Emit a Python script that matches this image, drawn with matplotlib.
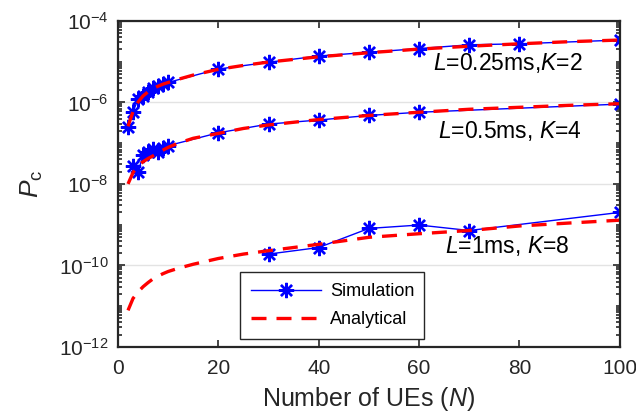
import matplotlib
matplotlib.use('Agg')
import matplotlib.pyplot as plt
import matplotlib.ticker as mticker
from matplotlib.lines import Line2D
import numpy as np

plt.rcParams['font.family'] = ['Liberation Sans', 'DejaVu Sans']
plt.rcParams['mathtext.fontset'] = 'custom'
plt.rcParams['mathtext.rm'] = 'Liberation Sans'
plt.rcParams['mathtext.it'] = 'Liberation Sans:italic'

# simulation points
n_sim1 = [2, 3, 4, 5, 6, 7, 8, 9, 10, 20, 30, 40, 50, 60, 70, 80, 100]
p_sim1 = [2.5e-7, 5.9e-7, 1.2e-6, 1.45e-6, 1.8e-6, 2.2e-6, 2.6e-6, 2.8e-6, 3.1e-6,
          6.6e-6, 9.7e-6, 1.38e-5, 1.7e-5, 2.1e-5, 2.6e-5, 2.75e-5, 3.4e-5]
n_sim2 = [3, 4, 5, 6, 7, 8, 9, 10, 20, 30, 40, 50, 60, 100]
p_sim2 = [2.7e-8, 2.0e-8, 5.0e-8, 6.0e-8, 7.4e-8, 6.0e-8, 7.5e-8, 8.7e-8,
          1.8e-7, 2.95e-7, 3.7e-7, 4.8e-7, 5.75e-7, 9.1e-7]
n_sim3 = [30, 40, 50, 60, 70, 100]
p_sim3 = [1.9e-10, 2.75e-10, 8.1e-10, 9.8e-10, 7.2e-10, 2.0e-9]

# analytical curves
n_ana = [2, 3, 4, 5, 6, 7, 8, 9, 10, 12, 15, 20, 25, 30, 40, 50, 60, 70, 80, 90, 100]
p_ana1 = [2.6e-7, 6.0e-7, 1.02e-6, 1.45e-6, 1.82e-6, 2.19e-6, 2.51e-6, 2.82e-6, 3.09e-6,
          3.7e-6, 4.7e-6, 6.5e-6, 8.1e-6, 9.8e-6, 1.32e-5, 1.66e-5, 2.04e-5, 2.4e-5,
          2.75e-5, 3.1e-5, 3.4e-5]
p_ana2 = [1.0e-8, 1.9e-8, 2.8e-8, 3.5e-8, 4.2e-8, 4.9e-8, 5.75e-8, 6.8e-8, 7.9e-8,
          1.0e-7, 1.32e-7, 1.74e-7, 2.3e-7, 2.8e-7, 3.8e-7, 4.8e-7, 5.75e-7, 6.8e-7,
          7.6e-7, 8.5e-7, 9.3e-7]
p_ana3 = [7.9e-12, 1.55e-11, 2.24e-11, 3.0e-11, 3.8e-11, 4.7e-11, 5.5e-11, 6.3e-11,
          7.1e-11, 8.5e-11, 1.07e-10, 1.48e-10, 1.9e-10, 2.3e-10, 3.3e-10, 4.9e-10,
          6.0e-10, 7.2e-10, 9.3e-10, 1.1e-9, 1.29e-9]

labels = [r'$\it{L}$=0.25ms,$\it{K}$=2', r'$\it{L}$=0.5ms, $\it{K}$=4', r'$\it{L}$=1ms, $\it{K}$=8']
label_pos = [(92.6, 6.3e-6), (92.4, 1.33e-7), (90.0, 2.0e-10)]

dark = '#262626'

fig = plt.figure(figsize=(6.36, 4.19), dpi=100)
ax = fig.add_axes([0.1855, 0.172, 0.789, 0.778])

star = dict(color='blue', lw=1.0, marker=(8, 2, 0), ms=11, mew=1.7)
dash = dict(color='red', lw=2.4, dashes=(4.5, 3))

for ns, ps, pa in [(n_sim1, p_sim1, p_ana1), (n_sim2, p_sim2, p_ana2), (n_sim3, p_sim3, p_ana3)]:
    ax.plot(ns, ps, **star)
    ax.plot(n_ana, pa, **dash)

ax.set_yscale('log')
ax.set_xlim(0, 100)
ax.set_ylim(1e-12, 1e-4)
ax.set_xticks([0, 20, 40, 60, 80, 100])
ax.yaxis.set_major_locator(mticker.FixedLocator([1e-12, 1e-10, 1e-8, 1e-6, 1e-4]))
ax.yaxis.set_minor_locator(mticker.LogLocator(base=10, subs=np.arange(1, 10), numticks=50))
ax.yaxis.set_minor_formatter(mticker.NullFormatter())
ax.grid(True, which='major', axis='y', color='#e3e3e3', lw=1.0)
ax.set_axisbelow(True)

ax.tick_params(which='both', direction='in', top=True, right=True, colors=dark,
               labelsize=15, width=1.2)
ax.tick_params(which='major', length=5)
ax.tick_params(which='minor', length=3)
ax.tick_params(axis='x', pad=9)
ax.tick_params(axis='y', pad=7)
for s in ax.spines.values():
    s.set_color(dark)
    s.set_linewidth(1.6)

ax.set_xlabel(r'Number of UEs ($\it{N}$)', fontsize=18, color=dark, labelpad=5)
ax.set_ylabel(r'$\it{P}_{\rm c}$', fontsize=19, color=dark, labelpad=10)

for txt, (x, y) in zip(labels, label_pos):
    ax.text(x, y, txt, fontsize=16.5, ha='right', va='baseline')

handles = [Line2D([], [], **star), Line2D([], [], **dash)]
leg = ax.legend(handles, ['Simulation', 'Analytical'], loc='lower left',
                bbox_to_anchor=(0.243, 0.025, 0.367, 0.214), mode='expand',
                fontsize=13, fancybox=False, edgecolor=dark, framealpha=1,
                borderaxespad=0, handlelength=3.9, borderpad=0.6,
                labelspacing=0.6, handletextpad=0.5)
leg.get_frame().set_linewidth(1.0)

fig.savefig('out.png', dpi=100)
